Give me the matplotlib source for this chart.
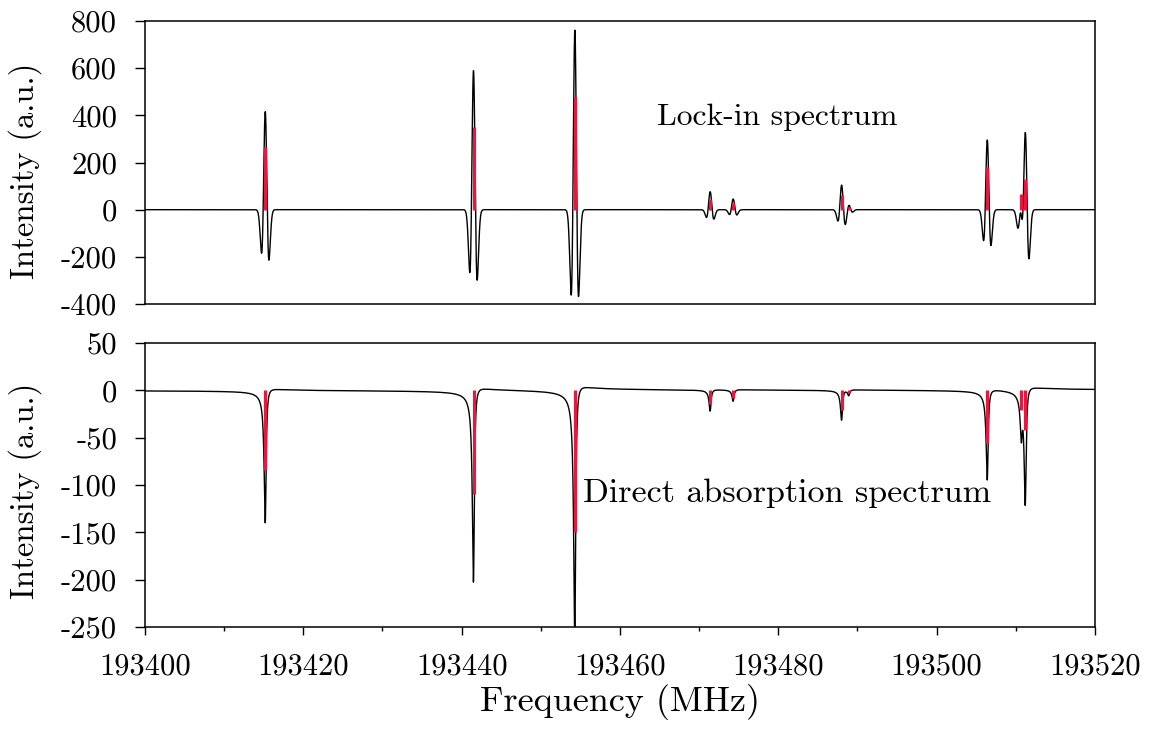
import numpy as np
import matplotlib
matplotlib.use("Agg")
import matplotlib.pyplot as plt
from matplotlib.ticker import MultipleLocator

plt.rcParams.update({
    "font.family": ["cmr10", "DejaVu Serif"],
    "mathtext.fontset": "cm",
    "axes.unicode_minus": False,
    "axes.formatter.useoffset": False,
    "font.size": 22,
})

# Transition frequencies (MHz)
line_freq = [193415.2, 193441.5, 193454.3, 193471.4, 193474.3,
             193488.0, 193488.9, 193506.4, 193510.7, 193511.2]

# Calculated stick intensities (red bars)
lockin_stick = [264, 349, 476, 44, 27, 62, 12, 180, 66, 131]
absorb_stick = [-84.5, -110, -150, -14, -7.7, -21, -3, -56, -21, -41.5]

# Measured line strengths: lock-in peak amplitude and absorption depth
lockin_amp = [415, 589, 761, 76, 45, 105, 22, 295, 150, 400]
lockin_skew = [-0.09, -0.07, -0.01, -0.12, -0.05, -0.05, 0.0, -0.09, -0.05, -0.08]
absorb_depth = [138, 200, 262, 22, 12, 31, 6, 93, 40, 120]

# Line-shape parameters (MHz)
lockin_sigma = 0.27      # width of the 2f (second-harmonic) profile
lockin_lobe = 1.05       # relative weight of the quadratic term (side-lobe depth)
absorb_gamma = 0.15      # Lorentzian half width
absorb_disp = 0.2        # dispersive admixture of the absorption profile

freq = np.linspace(193400, 193520, 24001)


def lockin_signal(f):
    y = np.zeros_like(f)
    for f0, a, s in zip(line_freq, lockin_amp, lockin_skew):
        u = (f - f0) / lockin_sigma
        y += a * ((1 - lockin_lobe * u**2) + s * u) * np.exp(-u**2 / 2)
    return y


def absorption_signal(f):
    y = np.zeros_like(f)
    g = absorb_gamma
    for f0, a in zip(line_freq, absorb_depth):
        d = f - f0
        y -= a * (g**2 - absorb_disp * g * d) / (d**2 + g**2)
    return y


red = "#e8173f"

fig = plt.figure(figsize=(11.58, 7.34), dpi=100)
ax1 = fig.add_axes([0.1252, 0.5858, 0.8204, 0.3856])
ax2 = fig.add_axes([0.1252, 0.1458, 0.8204, 0.3869])

ax1.plot(freq, lockin_signal(freq), color="black", lw=1.0, zorder=2)
ax1.vlines(line_freq, 0, lockin_stick, color=red, lw=2.3, zorder=3)

ax2.plot(freq, absorption_signal(freq), color="black", lw=1.0, zorder=2)
ax2.vlines(line_freq, 0, absorb_stick, color=red, lw=2.3, zorder=3)

ax1.set_xlim(193400, 193520)
ax2.set_xlim(193400, 193520)
ax1.set_ylim(-400, 800)
ax2.set_ylim(-250, 50)
ax1.yaxis.set_major_locator(MultipleLocator(200))
ax2.yaxis.set_major_locator(MultipleLocator(50))
ax2.xaxis.set_major_locator(MultipleLocator(20))
ax2.xaxis.set_minor_locator(MultipleLocator(10))

for ax, ly in ((ax1, 0.47), (ax2, 0.48)):
    for sp in ax.spines.values():
        sp.set_linewidth(1.1)
    ax.tick_params(axis="y", which="major", direction="out", length=7,
                   width=1.0, pad=13, right=False)
    ax.set_ylabel("Intensity (a.u.)", fontsize=23.5)
    ax.yaxis.set_label_coords(-0.108, ly)

ax1.tick_params(axis="x", bottom=False, labelbottom=False, top=False)
ax2.tick_params(axis="x", which="major", direction="out", length=6,
                width=1.0, pad=13, top=False)
ax2.tick_params(axis="x", which="minor", direction="out", length=3,
                width=1.0, top=False)
ax2.set_xlabel("Frequency (MHz)", fontsize=26, labelpad=2)

ax1.text(193464.7, 393, "Lock-in spectrum", ha="left", va="center", fontsize=22.8)
ax2.text(193455.3, -108.8, "Direct absorption spectrum", ha="left", va="center",
         fontsize=24.5)

fig.savefig("out.png", dpi=100)
